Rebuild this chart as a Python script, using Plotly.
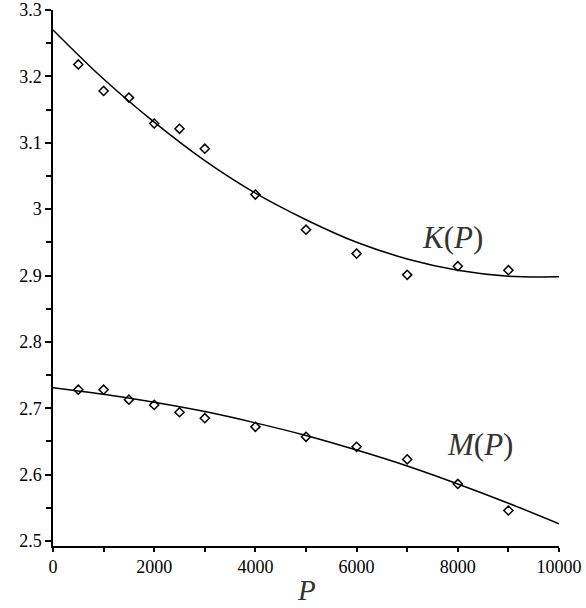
import plotly.graph_objects as go

# Measured data
P_points = [500, 1000, 1500, 2000, 2500, 3000, 4000, 5000, 6000, 7000, 8000, 9000]
K_points = [3.218, 3.178, 3.168, 3.129, 3.121, 3.091, 3.022, 2.969, 2.933, 2.901, 2.914, 2.908]
M_points = [2.728, 2.728, 2.713, 2.705, 2.694, 2.685, 2.672, 2.657, 2.642, 2.623, 2.586, 2.546]

# Fitted curves
P_curve = [0, 1000, 2000, 3000, 4000, 5000, 6000, 7000, 8000, 9000, 10000]
K_curve = [3.270, 3.196, 3.131, 3.073, 3.024, 2.984, 2.950, 2.925, 2.908, 2.899, 2.898]
M_curve = [2.731, 2.721, 2.709, 2.695, 2.678, 2.659, 2.637, 2.613, 2.586, 2.557, 2.526]

x_ticks = [0, 2000, 4000, 6000, 8000, 10000]
x_tick_labels = ["0", "2000", "4000", "6000", "8000", "10000"]
y_ticks = [2.5, 2.6, 2.7, 2.8, 2.9, 3.0, 3.1, 3.2, 3.3]
y_tick_labels = ["2.5", "2.6", "2.7", "2.8", "2.9", "3", "3.1", "3.2", "3.3"]

SERIF = "Liberation Serif"

fig = go.Figure()
for yc in (K_curve, M_curve):
    fig.add_trace(go.Scatter(x=P_curve, y=yc, mode="lines", line=dict(color="black", width=1.5, shape="spline"),
                             showlegend=False, hoverinfo="skip"))
for yp in (K_points, M_points):
    fig.add_trace(go.Scatter(x=P_points, y=yp, mode="markers",
                             marker=dict(symbol="diamond-open", size=7, color="black", line=dict(width=1.5)),
                             showlegend=False))

fig.add_annotation(x=7905, y=2.9576, text="<i>K</i>(<i>P</i>)", showarrow=False,
                   font=dict(family=SERIF, size=31, color="#333333"))
fig.add_annotation(x=8439, y=2.6454, text="<i>M</i>(<i>P</i>)", showarrow=False,
                   font=dict(family=SERIF, size=31, color="#333333"))
fig.add_annotation(x=0.5, xref="paper", y=-(590 - 546) / 536.0, yref="paper", yanchor="middle",
                   text="<i>P</i>", showarrow=False,
                   font=dict(family=SERIF, size=29, color="#333333"))

tickfont = dict(family=SERIF, size=18, color="black")
fig.update_layout(
    width=586, height=608,
    margin=dict(l=53, r=27, t=10, b=62),
    plot_bgcolor="white", paper_bgcolor="white",
    xaxis=dict(range=[0, 10000], tickvals=x_ticks, ticktext=x_tick_labels, showgrid=False, zeroline=False,
               automargin=False, ticklabeloverflow="allow",
               showline=True, linecolor="black", linewidth=1.5,
               ticks="outside", ticklen=4, tickwidth=1.5, tickcolor="black", tickfont=tickfont,
               minor=dict(dtick=1000, ticks="outside", ticklen=4, tickwidth=1.5, tickcolor="black")),
    yaxis=dict(range=[2.4925, 3.3], tickvals=y_ticks, ticktext=y_tick_labels, showgrid=False, zeroline=False,
               automargin=False, ticklabeloverflow="allow",
               showline=True, linecolor="black", linewidth=1.5,
               ticks="outside", ticklen=6, tickwidth=1.5, tickcolor="black", tickfont=tickfont,
               minor=dict(dtick=0.05, tick0=2.5, ticks="outside", ticklen=5, tickwidth=1.5, tickcolor="black")),
)
fig.write_html("out.html", config={"displayModeBar": False},
               post_script="document.body.style.margin='0';")
